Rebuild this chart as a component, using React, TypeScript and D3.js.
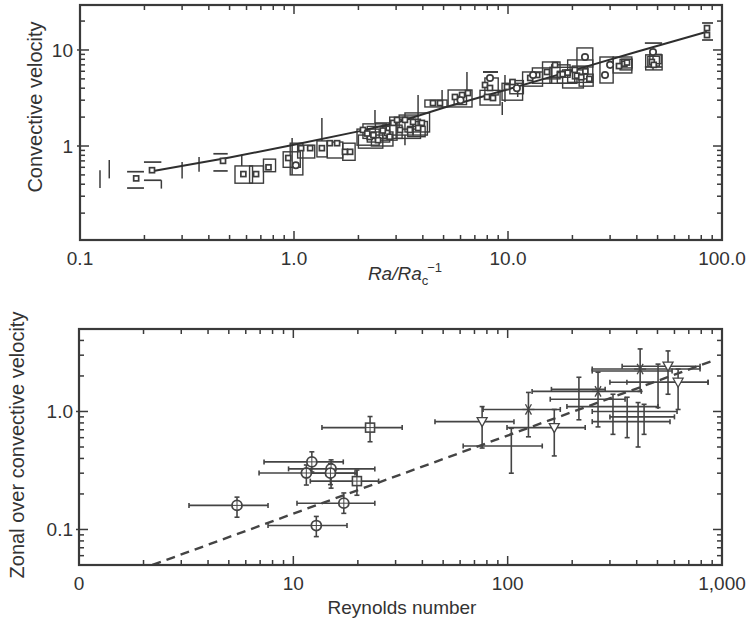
import React from 'react';
import * as d3 from 'd3';

// ---------- TOP PANEL DATA ----------
const topXMajor = [0.1, 1, 10, 100];
const topXLabels = ['0.1', '1.0', '10.0', '100.0'];
const topYMajor = [1, 10];
const topYLabels = ['1', '10'];

// power-law fit line
const fitX = [0.22, 0.5, 1.0, 2.0, 3.0, 5, 10, 20, 40, 85];
const fitY = [0.55, 0.76, 1.03, 1.42, 1.75, 2.5, 3.9, 6.1, 9.6, 15.5];

// error boxes [xLo, xHi, yLo, yHi]
const topBoxes: number[][] = [
  [0.53, 0.64, 0.41, 0.62], [0.62, 0.72, 0.41, 0.62], [0.72, 0.82, 0.54, 0.73],
  [0.89, 1.07, 0.60, 0.87], [0.96, 1.10, 0.50, 1.07], [1.04, 1.25, 0.75, 1.02],
  [1.28, 1.43, 0.77, 1.13], [1.43, 1.69, 0.75, 1.10], [1.69, 1.93, 0.71, 1.07],
  [1.97, 2.5, 1.02, 1.5], [2.2, 2.8, 1.1, 1.6], [2.4, 3.03, 1.15, 1.74],
  [2.0, 2.6, 0.95, 1.3], [2.8, 3.6, 1.3, 2.0], [3.0, 3.9, 1.2, 1.9],
  [3.3, 4.3, 1.4, 2.21], [3.6, 4.2, 1.3, 1.8], [4.09, 5.19, 2.55, 3.01],
  [2.1, 2.7, 1.2, 1.7], [2.3, 2.9, 1.0, 1.4], [2.6, 3.2, 1.2, 1.65],
  [3.1, 3.8, 1.5, 2.1], [3.4, 4.1, 1.25, 1.6],
  [5.25, 6.79, 2.55, 3.83], [5.6, 6.4, 2.7, 3.3], [7.4, 9.18, 2.67, 3.8],
  [7.8, 9.0, 3.4, 5.11], [9.38, 11.7, 3.0, 4.5], [10.2, 11.8, 3.5, 4.8],
  [11.7, 14.5, 4.2, 5.9], [13.0, 16.0, 4.5, 6.5], [14.5, 17.5, 5.0, 7.5],
  [15.7, 20.5, 4.5, 6.6], [18.0, 22.5, 4.02, 6.2], [19.0, 24.9, 4.6, 7.87],
  [16, 19.5, 5.2, 7.0], [17, 21, 4.5, 6.0], [20, 23.5, 5.0, 6.8], [21.5, 25, 4.2, 5.6],
  [21.0, 24.9, 6.65, 10.5], [26.9, 31.0, 4.53, 8.45], [31.0, 37.9, 5.76, 8.45],
  [33.4, 37.9, 6.2, 8.0], [34, 38, 6.5, 8.0], [44, 52.5, 6.2, 8.9],
  [45, 51, 6.8, 8.6], [46, 52, 7.2, 9.0],
];
// cap-only error bars [xLo, xHi, yLo, yHi]
const topCaps: number[][] = [
  [0.166, 0.199, 0.365, 0.54], [0.199, 0.24, 0.44, 0.68], [0.42, 0.49, 0.55, 0.83],
  [7.64, 8.98, 5.9, 5.9], [43.6, 52.5, 6.65, 11.8], [80.7, 90.8, 12.7, 19.1],
];
// vertical bars [x, yLo, yHi]
const topBars: number[][] = [
  [0.124, 0.365, 0.56], [0.137, 0.46, 0.715], [0.24, 0.36, 0.44], [0.30, 0.46, 0.68],
  [0.36, 0.54, 0.77], [0.57, 0.62, 0.81], [0.98, 0.50, 1.21], [1.35, 1.13, 1.96],
  [2.39, 1.74, 2.37], [3.30, 1.02, 1.30], [3.80, 2.10, 3.40], [4.92, 2.55, 3.83],
  [6.43, 3.56, 5.90], [9.68, 2.87, 5.49], [9.4, 2.1, 2.87], [11.1, 3.24, 4.5],
  [47.6, 6.2, 8.9],
];
const topSquares: number[][] = [
  [0.183, 0.46], [0.217, 0.56], [0.466, 0.70], [0.58, 0.51], [0.665, 0.51], [0.76, 0.60],
  [0.94, 0.75], [1.08, 0.95], [1.19, 0.95], [1.35, 0.95], [1.47, 1.07], [1.59, 1.07],
  [1.73, 0.87], [1.83, 0.87], [2.10, 1.47], [2.26, 1.24], [2.47, 1.15], [2.72, 1.37],
  [2.91, 1.74], [2.2, 1.35], [2.6, 1.45], [2.35, 1.3], [2.8, 1.25], [3.03, 1.87],
  [3.30, 1.87], [3.60, 1.78], [3.96, 1.74], [3.13, 1.47], [3.48, 1.47], [3.80, 1.54],
  [4.46, 2.80], [4.81, 2.80], [5.65, 3.24], [6.10, 3.40], [6.50, 3.56], [7.81, 4.32],
  [8.24, 4.02], [7.98, 3.24], [8.51, 3.16], [9.89, 4.12], [10.5, 4.64], [12.7, 5.11],
  [13.7, 5.49], [15.2, 5.90], [16.6, 6.98], [17.5, 5.5], [18, 5.6], [19, 5.8], [20.5, 6.2],
  [21, 5.4], [22, 5.2], [23, 6.0], [24, 5.0], [33, 6.8], [35, 7.2], [36, 7.4], [47, 7.5],
  [48, 7.0], [85.1, 16.9], [85.1, 14.3],
];
const topCircles: number[][] = [
  [1.02, 0.63], [8.24, 5.11], [13.1, 5.49], [6.0, 3.0], [22.9, 8.45], [28.4, 5.49],
  [47.6, 9.53], [11, 4.0], [30, 7.0],
];

// ---------- BOTTOM PANEL DATA ----------
const botXMajor = [1, 10, 100, 1000];
const botXLabels = ['0', '10', '100', '1,000'];
const botYMajor = [0.1, 1];
const botYLabels = ['0.1', '1.0'];

const dashX = [2.2, 900];
const dashY = [0.05, 2.68];

// [x, y, xLo, xHi, yLo, yHi]
const botCircles: number[][] = [
  [5.46, 0.160, 3.26, 7.62, 0.127, 0.188],
  [12.2, 0.374, 7.30, 17.1, 0.307, 0.455],
  [11.5, 0.301, 6.92, 19.4, 0.238, 0.352],
  [15.0, 0.326, 9.5, 24, 0.224, 0.389],
  [14.9, 0.30, 12.0, 19.8, 0.24, 0.36],
  [17.2, 0.167, 10.4, 24, 0.137, 0.204],
  [12.8, 0.108, 7.62, 17.8, 0.087, 0.129],
];
const botSquares: number[][] = [
  [19.8, 0.257, 12.0, 25, 0.195, 0.319],
  [22.8, 0.73, 13.6, 32.2, 0.554, 0.906],
];
const botStars: number[][] = [
  [125, 1.04, 76.8, 176, 0.61, 1.45],
  [415, 2.29, 248, 790, 1.48, 3.39],
  [264, 1.48, 130, 420, 0.74, 2.15],
];
const botTriangles: number[][] = [
  [76, 0.82, 45.8, 107, 0.49, 1.10],
  [165, 0.73, 99.3, 230, 0.42, 1.04],
  [560, 2.42, 342, 790, 1.40, 3.26],
  [624, 1.77, 360, 861, 1.04, 2.29],
];
const botPlain: number[][] = [
  [104, 0.51, 62, 145, 0.30, 0.72],
  [215, 1.27, 158, 353, 0.85, 1.95],
  [212, 1.54, 160, 285, 1.54, 1.54],
  [310, 1.0, 248, 617, 0.64, 1.40],
  [361, 0.82, 248, 572, 0.60, 1.32],
  [406, 1.10, 189, 503, 0.50, 1.19],
  [433, 0.9, 300, 600, 0.64, 1.15],
  [503, 1.77, 300, 861, 1.08, 2.52],
  [400, 2.2, 248, 585, 2.2, 2.2],
];

const INK = '#3a3a3a';
const FONT = "'Liberation Sans', Arial, Helvetica, sans-serif";

function Frame({ x, y, xMaj, yMaj }: any) {
  const [x0, x1] = x.range();
  const [y0, y1] = y.range(); // y0 bottom, y1 top
  const near = (a: number, b: number) => Math.abs(a - b) < 1e-6 * Math.max(a, b);
  const xMin = x.ticks().filter((v: number) => !xMaj.some((m: number) => near(m, v)));
  const yMin = y.ticks().filter((v: number) => !yMaj.some((m: number) => near(m, v)));
  const L = 9, l = 5;
  const segs: any[] = [];
  xMaj.forEach((v: number, i: number) => {
    const p = x(v);
    segs.push(<line key={'xm' + i} x1={p} x2={p} y1={y0} y2={y0 - L} />);
    segs.push(<line key={'xmt' + i} x1={p} x2={p} y1={y1} y2={y1 + L} />);
  });
  xMin.forEach((v: number, i: number) => {
    const p = x(v);
    segs.push(<line key={'xn' + i} x1={p} x2={p} y1={y0} y2={y0 - l} />);
    segs.push(<line key={'xnt' + i} x1={p} x2={p} y1={y1} y2={y1 + l} />);
  });
  yMaj.forEach((v: number, i: number) => {
    const p = y(v);
    segs.push(<line key={'ym' + i} x1={x0 - 3} x2={x0 + L} y1={p} y2={p} />);
    segs.push(<line key={'ymr' + i} x1={x1} x2={x1 - L} y1={p} y2={p} />);
  });
  yMin.forEach((v: number, i: number) => {
    const p = y(v);
    segs.push(<line key={'yn' + i} x1={x0} x2={x0 + l} y1={p} y2={p} />);
    segs.push(<line key={'ynr' + i} x1={x1} x2={x1 - l} y1={p} y2={p} />);
  });
  return (
    <g stroke={INK} fill="none">
      <g strokeWidth={1.5}>{segs}</g>
      <rect x={x0} y={y1} width={x1 - x0} height={y0 - y1} strokeWidth={2.2} />
    </g>
  );
}

function ErrCross({ d, x, y }: any) {
  const [, , xl, xh, yl, yh] = d;
  const cy = y(d[1]);
  const cx = x(d[0]);
  const c = 2.5;
  return (
    <g>
      <line x1={x(xl)} x2={x(xh)} y1={cy} y2={cy} />
      <line x1={x(xl)} x2={x(xl)} y1={cy - c} y2={cy + c} />
      <line x1={x(xh)} x2={x(xh)} y1={cy - c} y2={cy + c} />
      {yl !== yh && (
        <g>
          <line x1={cx} x2={cx} y1={y(yl)} y2={y(yh)} />
          <line x1={cx - c} x2={cx + c} y1={y(yl)} y2={y(yl)} />
          <line x1={cx - c} x2={cx + c} y1={y(yh)} y2={y(yh)} />
        </g>
      )}
    </g>
  );
}

export default function App() {
  const xT = d3.scaleLog().domain([0.1, 100]).range([80, 722]);
  const yT = d3.scaleLog().domain([0.105, 29.4]).range([240, 5]);
  const xB = d3.scaleLog().domain([1, 1000]).range([79, 722]);
  const yB = d3.scaleLog().domain([0.05, 5]).range([565, 329]);

  const fitLine = d3.line<number>().x((_, i) => xT(fitX[i])).y((_, i) => yT(fitY[i]));
  const dashLine = d3.line<number>().x((_, i) => xB(dashX[i])).y((_, i) => yB(dashY[i]));

  return (
    <svg width={750} height={624} style={{ position: 'absolute', left: 0, top: 0, background: '#fff' }} fontFamily={FONT}>
      <defs>
        <clipPath id="clipT"><rect x={80} y={5} width={642} height={235} /></clipPath>
        <clipPath id="clipB"><rect x={79} y={329} width={643} height={236} /></clipPath>
      </defs>
      <rect x={0} y={0} width={750} height={624} fill="#fff" />

      {/* ---------- TOP PANEL ---------- */}
      <g clipPath="url(#clipT)" stroke="#3c3c3c" fill="none" strokeWidth={1.4}>
        {topBoxes.map((b, i) => (
          <rect key={'b' + i} x={xT(b[0])} y={yT(b[3])} width={xT(b[1]) - xT(b[0])} height={yT(b[2]) - yT(b[3])} />
        ))}
        {topCaps.map((b, i) => (
          <g key={'c' + i}>
            <line x1={xT(b[0])} x2={xT(b[1])} y1={yT(b[2])} y2={yT(b[2])} strokeWidth={1.7} />
            <line x1={xT(b[0])} x2={xT(b[1])} y1={yT(b[3])} y2={yT(b[3])} strokeWidth={1.7} />
          </g>
        ))}
        {topBars.map((b, i) => (
          <line key={'v' + i} x1={xT(b[0])} x2={xT(b[0])} y1={yT(b[1])} y2={yT(b[2])} strokeWidth={1.5} />
        ))}
        <path d={fitLine(fitX) || ''} stroke="#2e2e2e" strokeWidth={2} />
        {topSquares.map((p, i) => (
          <rect key={'s' + i} x={xT(p[0]) - 2.5} y={yT(p[1]) - 2.5} width={5} height={5} strokeWidth={1.7} fill="#fff" />
        ))}
        {topCircles.map((p, i) => (
          <circle key={'o' + i} cx={xT(p[0])} cy={yT(p[1])} r={3.2} strokeWidth={1.7} fill="#fff" />
        ))}
      </g>
      <Frame x={xT} y={yT} xMaj={topXMajor} yMaj={topYMajor} />
      <g fill="#333" fontSize={19}>
        {topXMajor.map((v, i) => (
          <text key={i} x={xT(v)} y={265} textAnchor="middle">{topXLabels[i]}</text>
        ))}
        {topYMajor.map((v, i) => (
          <text key={i} x={73} y={yT(v) + 7} textAnchor="end">{topYLabels[i]}</text>
        ))}
        <text x={405} y={280} textAnchor="middle">
          <tspan fontStyle="italic">Ra</tspan>
          <tspan fontStyle="italic">/</tspan>
          <tspan fontStyle="italic">Ra</tspan>
          <tspan fontSize={13} dy={5}>c</tspan>
          <tspan fontSize={13} dx={-1} dy={-13}>−1</tspan>
        </text>
        <text transform="translate(42,107) rotate(-90)" textAnchor="middle" fontSize={20}>Convective velocity</text>
      </g>

      {/* ---------- BOTTOM PANEL ---------- */}
      <g clipPath="url(#clipB)" stroke="#444" fill="none" strokeWidth={1.6}>
        <path d={dashLine(dashX) || ''} stroke="#444" strokeWidth={2.4} strokeDasharray="9,6" />
        {[...botCircles, ...botSquares, ...botStars, ...botTriangles, ...botPlain].map((d, i) => (
          <ErrCross key={'e' + i} d={d} x={xB} y={yB} />
        ))}
        {botCircles.map((d, i) => {
          const cx = xB(d[0]), cy = yB(d[1]);
          return (
            <g key={'bc' + i}>
              <circle cx={cx} cy={cy} r={5} fill="#fff" strokeWidth={1.8} />
              <line x1={cx - 5} x2={cx + 5} y1={cy} y2={cy} strokeWidth={1} />
              <line x1={cx} x2={cx} y1={cy - 5} y2={cy + 5} strokeWidth={1} />
            </g>
          );
        })}
        {botSquares.map((d, i) => {
          const cx = xB(d[0]), cy = yB(d[1]);
          return (
            <g key={'bs' + i}>
              <rect x={cx - 4.5} y={cy - 4.5} width={9} height={9} fill="#fff" strokeWidth={1.6} />
              <line x1={cx - 4.5} x2={cx + 4.5} y1={cy} y2={cy} strokeWidth={1} />
              <line x1={cx} x2={cx} y1={cy - 4.5} y2={cy + 4.5} strokeWidth={1} />
            </g>
          );
        })}
        {botStars.map((d, i) => {
          const cx = xB(d[0]), cy = yB(d[1]);
          return (
            <g key={'bx' + i} strokeWidth={1.3}>
              {[0, 60, 120].map((a) => (
                <line key={a} x1={cx - 6 * Math.cos((a * Math.PI) / 180)} x2={cx + 6 * Math.cos((a * Math.PI) / 180)}
                  y1={cy - 6 * Math.sin((a * Math.PI) / 180)} y2={cy + 6 * Math.sin((a * Math.PI) / 180)} />
              ))}
            </g>
          );
        })}
        {botTriangles.map((d, i) => {
          const cx = xB(d[0]), cy = yB(d[1]);
          return (
            <path key={'bt' + i} d={`M${cx - 5},${cy - 4}L${cx + 5},${cy - 4}L${cx},${cy + 5}Z`} fill="#fff" strokeWidth={1.3} />
          );
        })}
      </g>
      <Frame x={xB} y={yB} xMaj={botXMajor} yMaj={botYMajor} />
      <g fill="#333" fontSize={19}>
        {botXMajor.map((v, i) => (
          <text key={i} x={xB(v)} y={590} textAnchor="middle">{botXLabels[i]}</text>
        ))}
        {botYMajor.map((v, i) => (
          <text key={i} x={73} y={yB(v) + 7} textAnchor="end">{botYLabels[i]}</text>
        ))}
        <text x={402} y={614} textAnchor="middle">Reynolds number</text>
        <text transform="translate(24,445) rotate(-90)" textAnchor="middle" fontSize={20}>Zonal over convective velocity</text>
      </g>
    </svg>
  );
}
